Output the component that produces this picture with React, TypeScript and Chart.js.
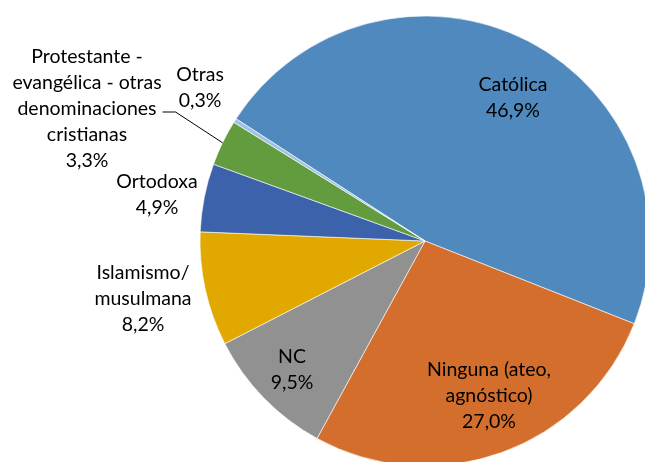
import React, { useEffect, useRef } from "react";
import { Chart, registerables } from "chart.js";

Chart.register(...registerables);

const categories = [
  "Católica",
  "Ninguna (ateo, agnóstico)",
  "NC",
  "Islamismo/ musulmana",
  "Ortodoxa",
  "Protestante - evangélica - otras denominaciones cristianas",
  "Otras",
];
const values = [46.9, 27.0, 9.5, 8.2, 4.9, 3.3, 0.3];
const labelLines = [
  ["Católica"],
  ["Ninguna (ateo,", "agnóstico)"],
  ["NC"],
  ["Islamismo/", "musulmana"],
  ["Ortodoxa"],
  ["Protestante -", "evangélica - otras", "denominaciones", "cristianas"],
  ["Otras"],
];
const colors = ["#4F89BD", "#D36E2C", "#919191", "#E1A900", "#3C62AB", "#629C3F", "#9DC2E4"];
// label block centres, offsets from pie centre in px (for radius 225)
const labelOffsets = [
  [88, -143],
  [64, 155],
  [-133, 129],
  [-282, 58],
  [-268, -46],
  [-338, -132],
  [-225, -153],
];

const FONT = "19.5px Lato, 'Noto Sans', sans-serif";
const LINE_H = 26;

const labelPlugin = {
  id: "sliceLabels",
  afterDraw(chart: any) {
    const ctx = chart.ctx;
    const meta = chart.getDatasetMeta(0);
    ctx.save();
    ctx.font = FONT;
    ctx.fillStyle = "#000";
    ctx.textAlign = "center";
    ctx.textBaseline = "middle";
    meta.data.forEach((arc: any, i: number) => {
      const { x, y, outerRadius, startAngle, endAngle } = arc.getProps(
        ["x", "y", "outerRadius", "startAngle", "endAngle"],
        true
      );
      const s = outerRadius / 225;
      const lines = [...labelLines[i], values[i].toFixed(1).replace(".", ",") + "%"];
      const cx = x + labelOffsets[i][0] * s;
      const cy = y + labelOffsets[i][1] * s;
      const top = cy - ((lines.length - 1) * LINE_H) / 2;
      lines.forEach((t, k) => ctx.fillText(t, cx, top + k * LINE_H));
      if (i === 5) {
        // leader line
        const mid = (startAngle + endAngle) / 2;
        const ex = x + Math.cos(mid) * outerRadius;
        const ey = y + Math.sin(mid) * outerRadius;
        const lineY = top + 2 * LINE_H + 3;
        const w = ctx.measureText(lines[2]).width;
        const sx = cx + w / 2 + 6;
        ctx.beginPath();
        ctx.strokeStyle = "#000";
        ctx.lineWidth = 1;
        ctx.moveTo(sx, lineY);
        ctx.lineTo(sx + 13, lineY);
        ctx.lineTo(ex, ey);
        ctx.stroke();
      }
    });
    ctx.restore();
  },
};

export default function App() {
  const ref = useRef<HTMLCanvasElement | null>(null);
  useEffect(() => {
    if (!ref.current) return;
    const chart = new Chart(ref.current, {
      type: "pie",
      data: {
        labels: categories,
        datasets: [
          {
            data: values,
            backgroundColor: colors,
            borderColor: "rgba(255,255,255,0.6)",
            borderWidth: 1,
          },
        ],
      },
      options: {
        animation: false,
        responsive: false,
        devicePixelRatio: 1,
        rotation: -57.1,
        radius: 225,
        layout: { padding: 0 },
        plugins: { legend: { display: false }, tooltip: { enabled: false } },
      },
      plugins: [labelPlugin],
    });
    return () => chart.destroy();
  }, []);
  return (
    <div
      style={{
        position: "fixed",
        left: 0,
        top: 0,
        width: 645,
        height: 462,
        overflow: "hidden",
        background: "#fff",
      }}
    >
      <canvas ref={ref} width={850} height={482} style={{ display: "block" }} />
    </div>
  );
}
